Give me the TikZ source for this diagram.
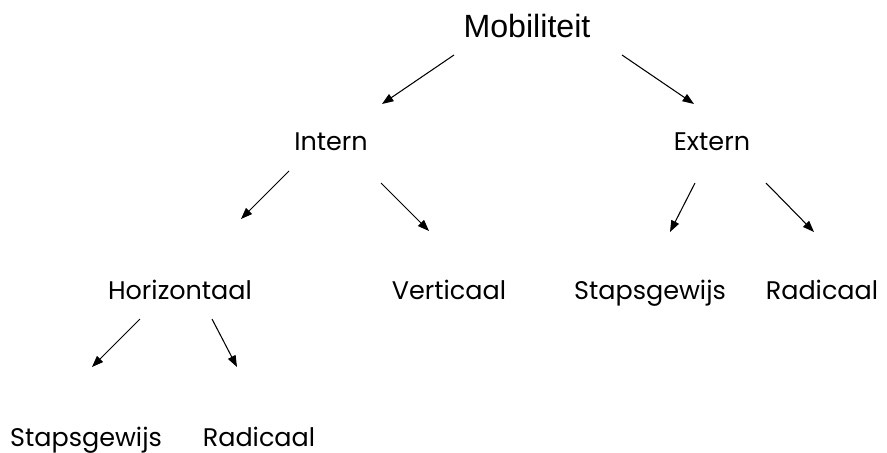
\documentclass[tikz,border=0pt]{standalone}
\usepackage{fontspec}
\setmainfont{Poppins}
\newfontfamily\headfont{Liberation Sans}
\usetikzlibrary{arrows.meta}

\begin{document}
\begin{tikzpicture}[x=0.02cm,y=-0.02cm,
    lbl/.style={inner sep=0pt,anchor=base,font=\fontsize{14.5}{16}\selectfont},
    pijl/.style={line width=0.6pt,-{Triangle[length=6.5pt,width=4.8pt]}}]
  \useasboundingbox (0,0) rectangle (887,453);

  % top
  \node[inner sep=0pt,anchor=base,font=\headfont\fontsize{18.3}{20}\selectfont] (mob) at (527,37) {Mobiliteit};

  % second row
  \node[lbl] (intern) at (331,150) {Intern};
  \node[lbl] (extern) at (712,150) {Extern};

  % third row
  \node[lbl] (hor) at (180,299) {Horizontaal};
  \node[lbl] (vert) at (449,299) {Verticaal};
  \node[lbl] (stap1) at (650,299) {Stapsgewijs};
  \node[lbl] (rad1) at (822,299) {Radicaal};

  % bottom row
  \node[lbl] (stap2) at (86,446) {Stapsgewijs};
  \node[lbl] (rad2) at (259,446) {Radicaal};

  % arrow ends
  \coordinate (mobL) at (454,55);   \coordinate (mobLe) at (382,104);
  \coordinate (mobR) at (622,55);   \coordinate (mobRe) at (694,104);
  \coordinate (intL) at (289,171);  \coordinate (intLe) at (241,219);
  \coordinate (intR) at (381,183);  \coordinate (intRe) at (429,231);
  \coordinate (extL) at (695,183);  \coordinate (extLe) at (670,232);
  \coordinate (extR) at (766,183);  \coordinate (extRe) at (814,232);
  \coordinate (horL) at (140,319);  \coordinate (horLe) at (92,367);
  \coordinate (horR) at (212,319);  \coordinate (horRe) at (237,367);

  \draw[pijl] (mobL) -- (mobLe);
  \draw[pijl] (mobR) -- (mobRe);
  \draw[pijl] (intL) -- (intLe);
  \draw[pijl] (intR) -- (intRe);
  \draw[pijl] (extL) -- (extLe);
  \draw[pijl] (extR) -- (extRe);
  \draw[pijl] (horL) -- (horLe);
  \draw[pijl] (horR) -- (horRe);
\end{tikzpicture}
\end{document}
